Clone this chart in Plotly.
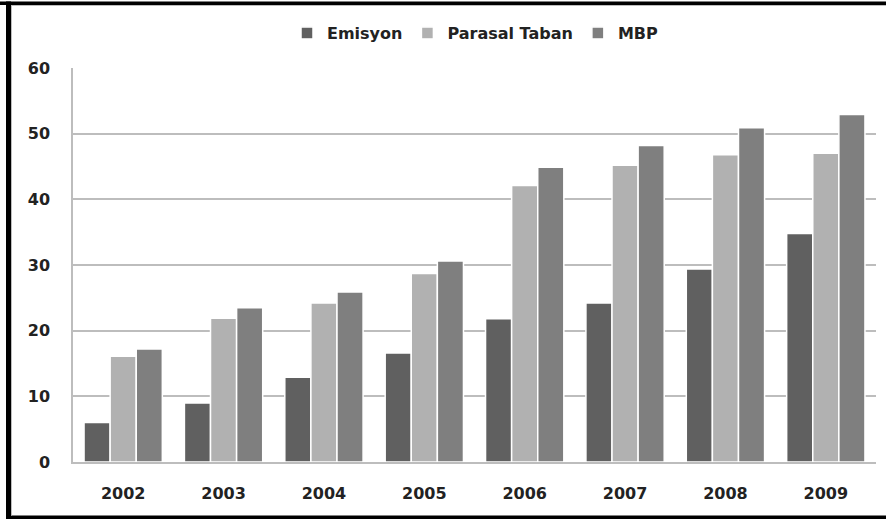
import plotly.graph_objects as go

years = ["2002", "2003", "2004", "2005", "2006", "2007", "2008", "2009"]
emisyon = [6.0, 9.0, 12.9, 16.6, 21.8, 24.2, 29.4, 34.8]
parasal_taban = [16.1, 21.9, 24.2, 28.7, 42.1, 45.2, 46.8, 47.0]
mbp = [17.2, 23.5, 25.9, 30.6, 44.9, 48.2, 50.9, 52.9]
y_ticks = [0, 10, 20, 30, 40, 50, 60]

W, H = 887, 520
L, R, T, B = 73, 876, 68, 462


def px_x(p):
    return (p - L) / (R - L)


def px_y(p):
    return (B - p) / (B - T)


fig = go.Figure()
series = [("Emisyon", emisyon, "#606060"),
          ("Parasal Taban", parasal_taban, "#b1b1b1"),
          ("MBP", mbp, "#7f7f7f")]
for name, vals, col in series:
    fig.add_trace(go.Bar(x=years, y=vals, name=name,
                         marker=dict(color=col, line=dict(color="#ffffff", width=1.5))))

shapes = []
def rect(x0, y0, x1, y1, color):
    shapes.append(dict(type="rect", xref="paper", yref="paper",
                       x0=px_x(x0), x1=px_x(x1), y0=px_y(y0), y1=px_y(y1),
                       fillcolor=color, line=dict(width=0), layer="above"))

# frame
rect(0, 1.5, W - 1, 5, "#000000")
rect(6, 1.5, 11, 519, "#000000")
rect(6, 515.5, W - 1, 519, "#000000")
rect(11, 5, W - 1, 6, "#bdbdbd")
rect(11, 5, 12, 515.5, "#bdbdbd")

fig.update_layout(
    width=W, height=H,
    margin=dict(l=L, r=W - R, t=T, b=H - B),
    paper_bgcolor="#ffffff", plot_bgcolor="#ffffff",
    barmode="group", bargap=0.22, bargroupgap=0.0,
    showlegend=True,
    legend=dict(orientation="h", x=px_x(475), xanchor="center",
                y=px_y(33), yanchor="middle",
                font=dict(family="DejaVu Sans", size=16, color="#222222", weight=700),
                itemwidth=30, traceorder="normal"),
    shapes=shapes,
    xaxis=dict(showgrid=False, showline=True, linecolor="#bdbdbd", linewidth=1.5,
               ticks="", ticklabelstandoff=16,
               tickfont=dict(family="DejaVu Sans", size=16, color="#222222", weight=700)),
    yaxis=dict(range=[0, 60], tickvals=y_ticks, showgrid=True, gridcolor="#bdbdbd",
               gridwidth=1.5, showline=True, linecolor="#bdbdbd", linewidth=1.5,
               zeroline=False, ticks="", ticklabelstandoff=18,
               tickfont=dict(family="DejaVu Sans", size=16, color="#222222", weight=700)),
)

fig.write_html("out.html", config={"displayModeBar": False},
               post_script="document.body.style.margin='0px';document.body.style.overflow='hidden';")
